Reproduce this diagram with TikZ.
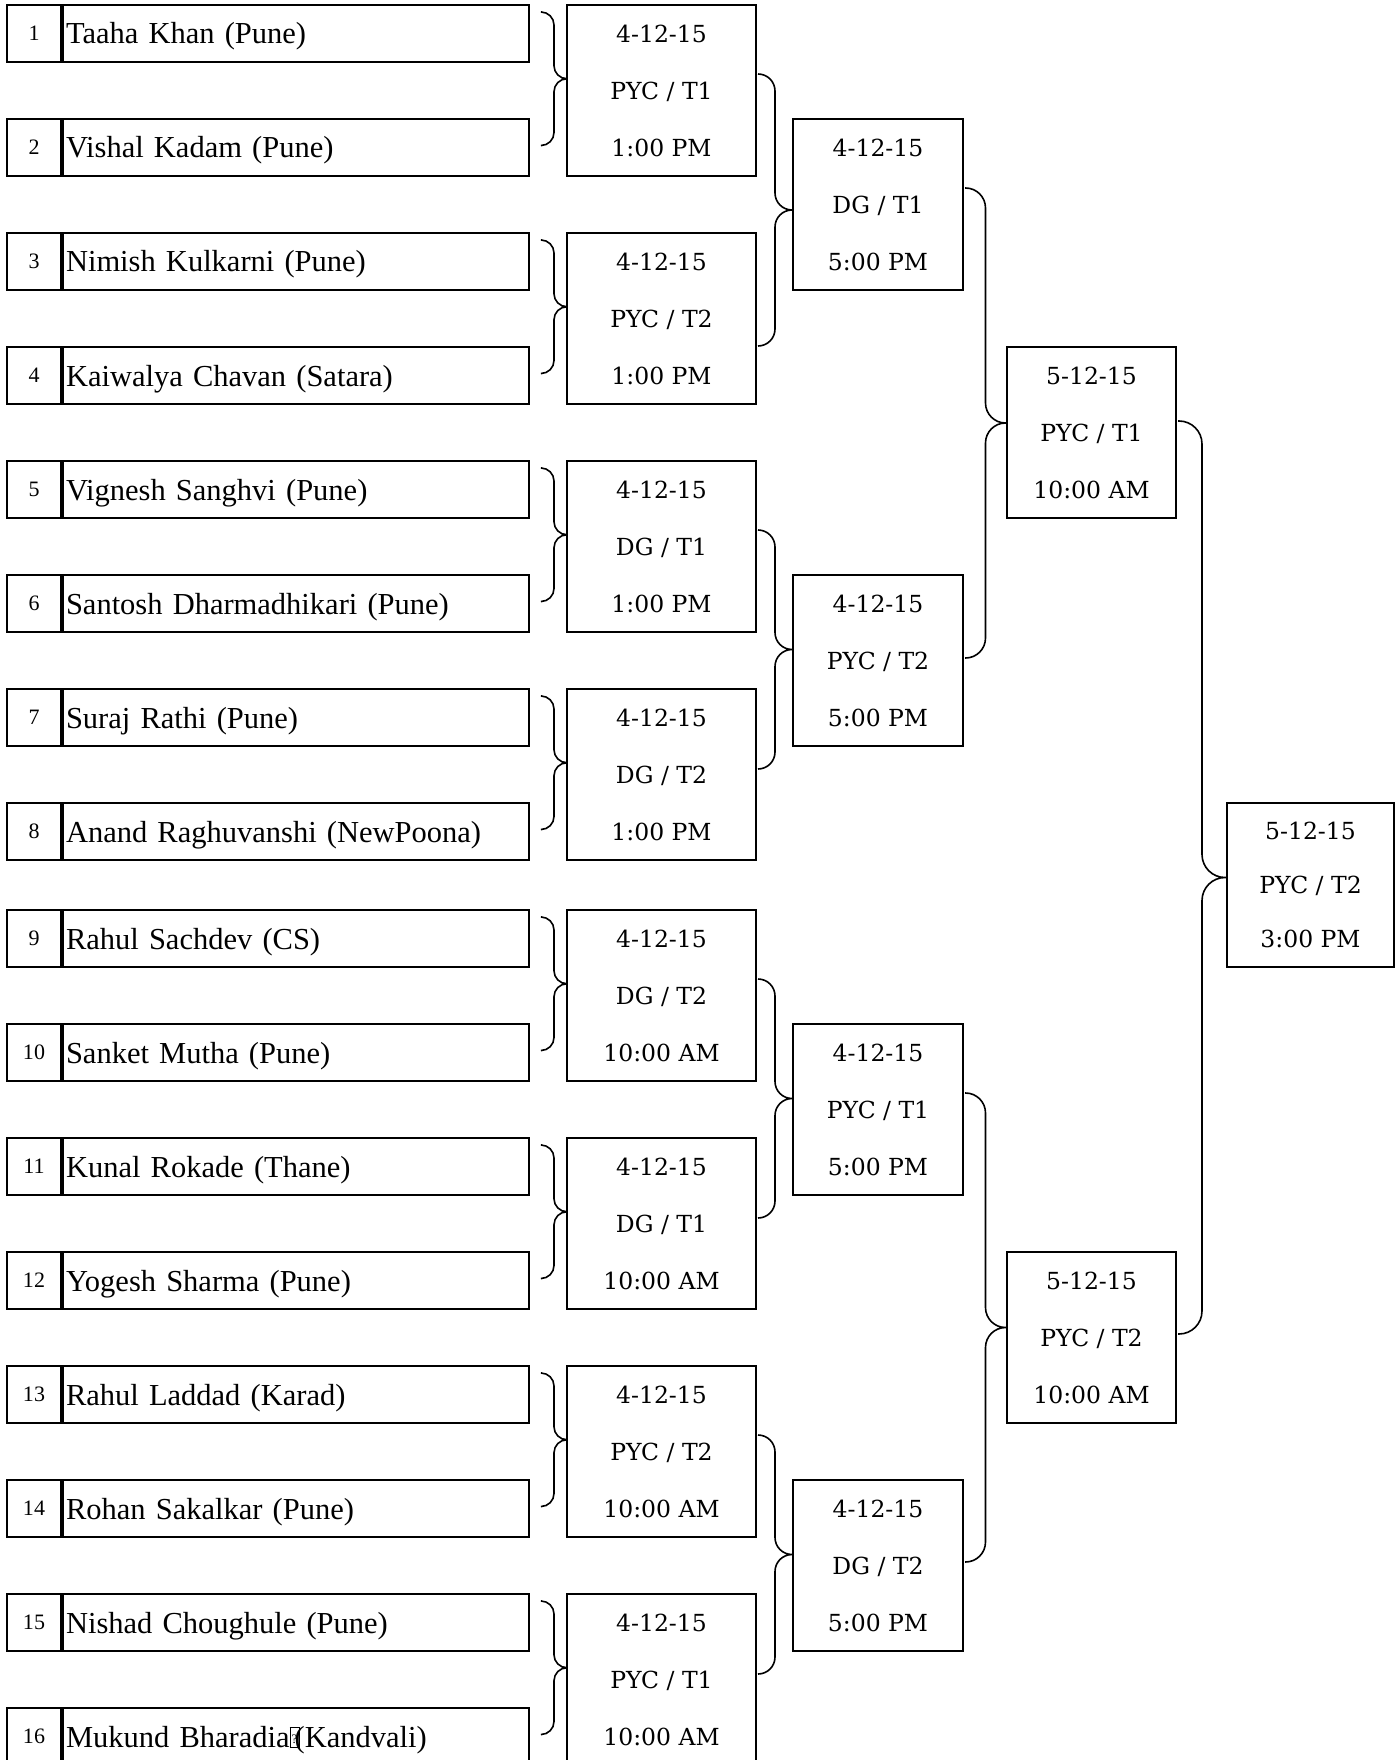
\documentclass[tikz,border=0pt]{standalone}
\usepackage{fontspec}
\setmainfont{Liberation Serif}
\newfontfamily\gamefont{DejaVu Serif}
\usetikzlibrary{calc}
\tikzset{every picture/.style={x=1pt,y=-1pt},
  seed/.style={draw,line width=2pt,anchor=north west,minimum width=54pt,minimum height=57pt,inner sep=0pt,font=\fontsize{22}{26}\selectfont},
  player/.style={draw,line width=2pt,anchor=north west,minimum height=57pt,text width=460pt,text height=27pt,text depth=6pt,inner xsep=3pt,inner ysep=0pt,align=left,font=\fontsize{30.5}{37}\selectfont},
  game/.style={draw,line width=2pt,anchor=north west,minimum width=189pt,minimum height=171pt,inner sep=0pt,align=center,font=\gamefont\fontsize{23.5}{57}\selectfont},
  link/.style={line width=1.6pt}}
\newcommand{\bracketto}[4][14pt]{%
  \draw[link,rounded corners=#1] let \p1=(#2), \p2=(#3), \p3=(#4.west) in
    (\p1) -- ({(\x1+\x3)/2},\y1) -- ({(\x1+\x3)/2},{(\y1+\y2)/2}) -- (\x3,{(\y1+\y2)/2})
    (\p2) -- ({(\x1+\x3)/2},\y2) -- ({(\x1+\x3)/2},{(\y1+\y2)/2}) -- (\x3,{(\y1+\y2)/2});}
\newcommand{\lostglyph}{\rlap{\fboxsep=0pt\fboxrule=0.9pt\framebox[10pt][c]{\rule{0pt}{19pt}\raisebox{4pt}{\fontsize{13}{13}\selectfont ?}}}\hspace{5pt}}

\begin{document}
\begin{tikzpicture}
  \useasboundingbox (0,0) rectangle (1397,1760);

  \node[seed] (n1) at (6,4) {1};
  \node[player] (p1) at (n1.north east) {Taaha Khan (Pune)};
  \node[seed] (n2) at (6,118) {2};
  \node[player] (p2) at (n2.north east) {Vishal Kadam (Pune)};
  \node[seed] (n3) at (6,232) {3};
  \node[player] (p3) at (n3.north east) {Nimish Kulkarni (Pune)};
  \node[seed] (n4) at (6,346) {4};
  \node[player] (p4) at (n4.north east) {Kaiwalya Chavan (Satara)};
  \node[seed] (n5) at (6,460) {5};
  \node[player] (p5) at (n5.north east) {Vignesh Sanghvi (Pune)};
  \node[seed] (n6) at (6,574) {6};
  \node[player] (p6) at (n6.north east) {Santosh Dharmadhikari (Pune)};
  \node[seed] (n7) at (6,688) {7};
  \node[player] (p7) at (n7.north east) {Suraj Rathi (Pune)};
  \node[seed] (n8) at (6,802) {8};
  \node[player] (p8) at (n8.north east) {Anand Raghuvanshi (NewPoona)};
  \node[seed] (n9) at (6,909) {9};
  \node[player] (p9) at (n9.north east) {Rahul Sachdev (CS)};
  \node[seed] (n10) at (6,1023) {10};
  \node[player] (p10) at (n10.north east) {Sanket Mutha (Pune)};
  \node[seed] (n11) at (6,1137) {11};
  \node[player] (p11) at (n11.north east) {Kunal Rokade (Thane)};
  \node[seed] (n12) at (6,1251) {12};
  \node[player] (p12) at (n12.north east) {Yogesh Sharma (Pune)};
  \node[seed] (n13) at (6,1365) {13};
  \node[player] (p13) at (n13.north east) {Rahul Laddad (Karad)};
  \node[seed] (n14) at (6,1479) {14};
  \node[player] (p14) at (n14.north east) {Rohan Sakalkar (Pune)};
  \node[seed] (n15) at (6,1593) {15};
  \node[player] (p15) at (n15.north east) {Nishad Choughule (Pune)};
  \node[seed] (n16) at (6,1707) {16};
  \node[player] (p16) at (n16.north east) {Mukund Bharadia\lostglyph(Kandvali)};

  \node[game] (m1) at (566,4) {4-12-15\\PYC / T1\\1:00 PM};
  \node[game] (m2) at (566,232) {4-12-15\\PYC / T2\\1:00 PM};
  \node[game] (m3) at (566,460) {4-12-15\\DG / T1\\1:00 PM};
  \node[game] (m4) at (566,688) {4-12-15\\DG / T2\\1:00 PM};
  \node[game] (m5) at (566,909) {4-12-15\\DG / T2\\10:00 AM};
  \node[game] (m6) at (566,1137) {4-12-15\\DG / T1\\10:00 AM};
  \node[game] (m7) at (566,1365) {4-12-15\\PYC / T2\\10:00 AM};
  \node[game] (m8) at (566,1593) {4-12-15\\PYC / T1\\10:00 AM};

  \node[game,minimum width=170pt] (q1) at (792,118) {4-12-15\\DG / T1\\5:00 PM};
  \node[game,minimum width=170pt] (q2) at (792,574) {4-12-15\\PYC / T2\\5:00 PM};
  \node[game,minimum width=170pt] (q3) at (792,1023) {4-12-15\\PYC / T1\\5:00 PM};
  \node[game,minimum width=170pt] (q4) at (792,1479) {4-12-15\\DG / T2\\5:00 PM};

  \node[game,minimum width=169pt] (s1) at (1006,346) {5-12-15\\PYC / T1\\10:00 AM};
  \node[game,minimum width=169pt] (s2) at (1006,1251) {5-12-15\\PYC / T2\\10:00 AM};

  \node[game,minimum width=167pt,minimum height=164pt,font=\gamefont\fontsize{23.5}{54}\selectfont] (f) at (1226,802) {5-12-15\\PYC / T2\\3:00 PM};

  \bracketto[13pt]{$(p1.north east)+(12,8)$}{$(p2.east)+(12,-2)$}{m1}
  \bracketto[13pt]{$(p3.north east)+(12,8)$}{$(p4.east)+(12,-2)$}{m2}
  \bracketto[13pt]{$(p5.north east)+(12,8)$}{$(p6.east)+(12,-2)$}{m3}
  \bracketto[13pt]{$(p7.north east)+(12,8)$}{$(p8.east)+(12,-2)$}{m4}
  \bracketto[13pt]{$(p9.north east)+(12,8)$}{$(p10.east)+(12,-2)$}{m5}
  \bracketto[13pt]{$(p11.north east)+(12,8)$}{$(p12.east)+(12,-2)$}{m6}
  \bracketto[13pt]{$(p13.north east)+(12,8)$}{$(p14.east)+(12,-2)$}{m7}
  \bracketto[13pt]{$(p15.north east)+(12,8)$}{$(p16.east)+(12,-2)$}{m8}

  \bracketto[17pt]{$(m1.north east)+(1,70)$}{$(m2.north east)+(1,114)$}{q1}
  \bracketto[17pt]{$(m3.north east)+(1,70)$}{$(m4.north east)+(1,81)$}{q2}
  \bracketto[17pt]{$(m5.north east)+(1,70)$}{$(m6.north east)+(1,81)$}{q3}
  \bracketto[17pt]{$(m7.north east)+(1,70)$}{$(m8.north east)+(1,81)$}{q4}

  \bracketto[20pt]{$(q1.north east)+(1,70)$}{$(q2.north east)+(1,84)$}{s1}
  \bracketto[20pt]{$(q3.north east)+(1,70)$}{$(q4.north east)+(1,83)$}{s2}

  \bracketto[23pt]{$(s1.north east)+(1,75)$}{$(s2.north east)+(1,83)$}{f}
\end{tikzpicture}
\end{document}
